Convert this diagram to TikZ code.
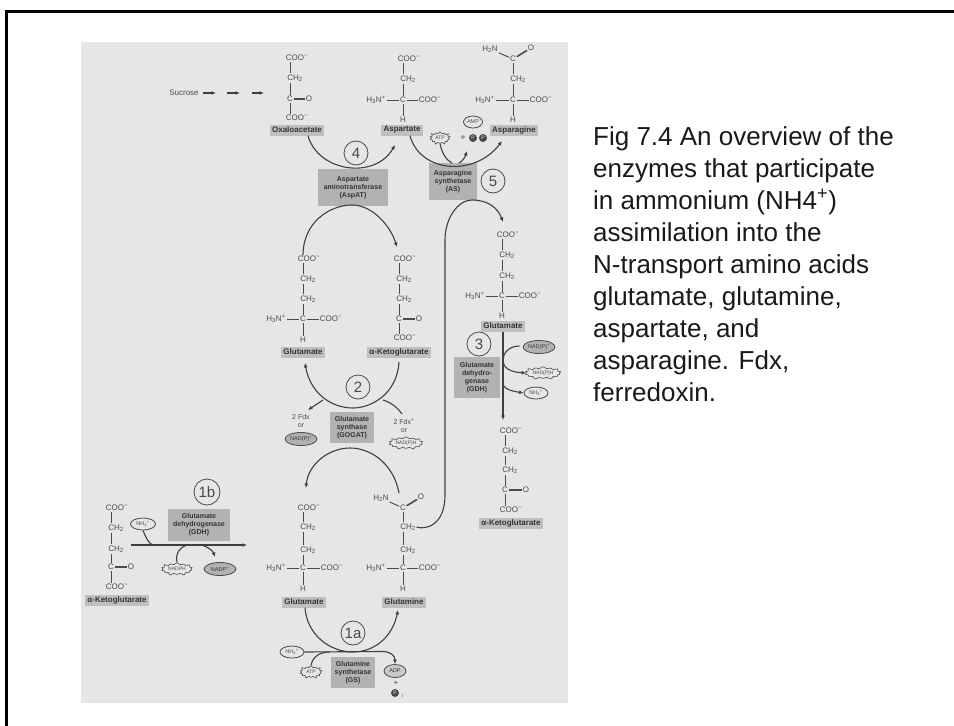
\documentclass[tikz,border=0pt]{standalone}
\usepackage{fontspec}
\setmainfont{Liberation Sans}
\usetikzlibrary{shapes.geometric,shapes.symbols,arrows.meta}
\definecolor{panel}{HTML}{E6E6E6}
\definecolor{boxg}{HTML}{B2B2B2}
\definecolor{ink}{HTML}{4A4A4A}
\definecolor{inkd}{HTML}{333333}
\newcommand{\sub}[1]{\textsubscript{#1}}
\newcommand{\ch}[1]{CH\textsubscript{2}}
\tikzset{
  x=1pt,y=-1pt,
  atom/.style={text=ink,font=\fontsize{8}{8}\selectfont,inner sep=0.6pt},
  bond/.style={draw=ink,line width=0.9pt,shorten >=0.2pt,shorten <=0.2pt},
  dbl/.style={draw=ink,line width=1.6pt},
  lab/.style={fill=boxg!75!panel,text=inkd,font=\bfseries\fontsize{8}{8}\selectfont,inner xsep=2.5pt,inner ysep=1pt,minimum height=11pt},
  enz/.style={fill=boxg,text=inkd,font=\bfseries\fontsize{7}{8}\selectfont,align=center,inner sep=0pt,anchor=center},
  num/.style={circle,draw=ink,line width=0.8pt,fill=panel,text=ink,font=\fontsize{15}{15}\selectfont,inner sep=0pt,minimum size=24pt},
  oval/.style={ellipse,draw=ink,line width=0.8pt,fill=panel,text=ink,font=\fontsize{5.5}{6}\selectfont,inner sep=0pt,minimum width=#1,minimum height=12pt},
  dark/.style={ellipse,draw=ink,line width=0.8pt,fill=boxg,text=inkd,font=\fontsize{5.5}{6}\selectfont,inner sep=0pt,minimum width=#1,minimum height=13pt},
  burst/.style={starburst,starburst points=14,starburst point height=2.5pt,draw=ink,line width=0.6pt,fill=panel,text=ink,font=\fontsize{5}{6}\selectfont,inner sep=0pt,minimum width=#1,minimum height=14pt},
  flow/.style={draw=ink!85!black,line width=1.1pt},
  arr/.style={flow,-{Latex[length=4.5pt,width=4pt]}},
  small/.style={text=ink,font=\fontsize{7}{8}\selectfont,inner sep=0pt}
}
\begin{document}
\begin{tikzpicture}
\useasboundingbox (0,0) rectangle (954,726);
\fill[white] (0,0) rectangle (954,726);
\fill[panel] (81,42) rectangle (568,703);
\draw[black,line width=2.6pt] (6.5,726) -- (6.5,11.5) -- (954,11.5);

% Oxaloacetate
\node[atom] (oa1) at (297,58) {COO\textsuperscript{−}};
\node[atom] (oa2) at (295,78) {\ch{}};
\node[atom] (oa3) at (290,99) {C};
\node[atom] (oa4) at (309,99) {O};
\node[atom] (oa5) at (297,118) {COO\textsuperscript{−}};
\draw[bond] (oa1.south -| oa3) -- (oa2.north -| oa3);
\draw[bond] (oa2.south -| oa3) -- (oa3);
\draw[bond] (oa3) -- (oa5.north -| oa3);
\draw[dbl] (oa3) -- (oa4);
\node[lab] (oal) at (297,130) {Oxaloacetate};
\node[atom] (suc) at (184,93) {Sucrose};
\coordinate (s0) at (203,93); \coordinate (s1) at (216,93); \coordinate (s2) at (227,93); \coordinate (s3) at (240,93);
\coordinate (s4) at (252,93); \coordinate (s5) at (264,93);
\draw[arr] (s0) -- (s1);
\draw[arr] (s2) -- (s3);
\draw[arr] (s4) -- (s5);

% Aspartate
\node[atom] (as1) at (409,59) {COO\textsuperscript{−}};
\node[atom] (as2) at (408,79) {\ch{}};
\node[atom] (as3) at (403,100) {C};
\node[atom] (as4) at (430,100) {COO\textsuperscript{−}};
\node[atom] (as5) at (376,100) {H\sub{3}N\textsuperscript{+}};
\node[atom] (as6) at (403,120) {H};
\draw[bond] (as1.south -| as3) -- (as2.north -| as3);
\draw[bond] (as2.south -| as3) -- (as3);
\draw[bond] (as3) -- (as6);
\draw[bond] (as5) -- (as3); \draw[bond] (as3) -- (as4);
\node[lab] (asl) at (402,130) {Aspartate};

% Asparagine
\node[atom] (an0) at (490,49) {H\sub{2}N};
\node[atom] (an7) at (531,48) {O};
\node[atom] (an1) at (513,59) {C};
\node[atom] (an2) at (518,79) {\ch{}};
\node[atom] (an3) at (513,100) {C};
\node[atom] (an4) at (541,100) {COO\textsuperscript{−}};
\node[atom] (an5) at (485,100) {H\sub{3}N\textsuperscript{+}};
\node[atom] (an6) at (513,120) {H};
\draw[bond] (an0) -- (an1); \draw[dbl] (an1) -- (an7);
\draw[bond] (an1) -- (an2.north -| an1);
\draw[bond] (an2.south -| an1) -- (an3);
\draw[bond] (an3) -- (an6);
\draw[bond] (an5) -- (an3); \draw[bond] (an3) -- (an4);
\node[lab] (anl) at (514,130) {Asparagine};

% Enzyme 4
\node[enz,minimum width=70pt,minimum height=37pt] (e4) at (353,187.5) {Aspartate\\aminotransferase\\(AspAT)};
\node[num] (n4) at (356,153) {4};
\coordinate (a4s) at (308,137); \coordinate (a4e) at (395,145);
\draw[arr] (oal.south -| a4s) .. controls (318,172) and (375,180) .. (a4e);

% Enzyme 5
\node[enz,minimum width=48pt,minimum height=37pt] (e5) at (453,181.5) {Asparagine\\synthetase\\(AS)};
\node[num] (n5) at (493,181) {5};
\node[burst=22pt] (atp5) at (440,138) {ATP};
\node[oval=19pt] (amp) at (473,122) {AMP};
\node[atom,font=\fontsize{9}{9}\selectfont] (pl5) at (463,138) {+};
\node[circle,fill=ink,text=panel,font=\fontsize{5}{5}\selectfont,inner sep=0pt,minimum size=8pt] (p1) at (473,138) {P};
\node[circle,fill=ink,text=panel,font=\fontsize{5}{5}\selectfont,inner sep=0pt,minimum size=8pt] (p2) at (483,138) {P};
\coordinate (a5s) at (410,137); \coordinate (a5e) at (502,141);
\draw[arr] (asl.south -| a5s) .. controls (420,173) and (475,177) .. (a5e);
\coordinate (j5a) at (452,163); \coordinate (j5b) at (459,163); \coordinate (t5b) at (467,151);
\draw[flow] (atp5.south) .. controls (442,153) and (446,160) .. (j5a);
\draw[arr] (j5b) .. controls (463,161) and (465,157) .. (t5b);

% Glutamate upper
\node[atom] (g1) at (309,259) {COO\textsuperscript{−}};
\node[atom] (g2) at (308,279) {\ch{}};
\node[atom] (g3) at (308,299) {\ch{}};
\node[atom] (g4) at (303,319) {C};
\node[atom] (g5) at (331,319) {COO\textsuperscript{−}};
\node[atom] (g6) at (276,319) {H\sub{3}N\textsuperscript{+}};
\node[atom] (g7) at (303,340) {H};
\draw[bond] (g1.south -| g4) -- (g2.north -| g4);
\draw[bond] (g2.south -| g4) -- (g3.north -| g4);
\draw[bond] (g3.south -| g4) -- (g4);
\draw[bond] (g4) -- (g7); \draw[bond] (g6) -- (g4); \draw[bond] (g4) -- (g5);
\node[lab] (gl) at (303,352) {Glutamate};

% a-Ketoglutarate upper
\node[atom] (k1) at (405,259) {COO\textsuperscript{−}};
\node[atom] (k2) at (404,279) {\ch{}};
\node[atom] (k3) at (404,299) {\ch{}};
\node[atom] (k4) at (399,319) {C};
\node[atom] (k5) at (419,319) {O};
\node[atom] (k6) at (405,338) {COO\textsuperscript{−}};
\draw[bond] (k1.south -| k4) -- (k2.north -| k4);
\draw[bond] (k2.south -| k4) -- (k3.north -| k4);
\draw[bond] (k3.south -| k4) -- (k4);
\draw[bond] (k4) -- (k6.north -| k4); \draw[dbl] (k4) -- (k5);
\node[lab] (kl) at (399,352) {α-Ketoglutarate};

\coordinate (lp4) at (397,247);
\draw[arr] (g1.north -| g4) .. controls (303,222) and (330,205) .. (352,205) .. controls (372,205) and (390,225) .. (lp4);

% Enzyme 2
\node[enz,minimum width=44pt,minimum height=31pt] (e2) at (352,427.5) {Glutamate\\synthase\\(GOGAT)};
\node[num] (n2) at (358,387) {2};
\coordinate (a2s) at (399,362); \coordinate (a2e) at (305,363);
\draw[arr] (a2s) .. controls (397,395) and (370,408) .. (353,408) .. controls (330,408) and (310,392) .. (a2e);
\coordinate (b2a) at (323,400); \coordinate (b2b) at (308,410); \coordinate (b2c) at (383,400); \coordinate (b2d) at (402,414);
\draw[arr] (b2a) -- (b2b);
\draw[flow] (b2c) .. controls (392,403) and (398,408) .. (b2d);
\node[small,align=center] (fd1) at (301,421) {2 Fdx\\or};
\node[dark=32pt] (nd1) at (301,439) {NAD(P)\textsuperscript{+}};
\node[small,align=center] (fd2) at (404,426) {2 Fdx\textsuperscript{+}\\or};
\node[burst=36pt] (nd2) at (406,443) {NAD(P)H};

% Glutamate lower
\node[atom] (h1) at (309,508) {COO\textsuperscript{−}};
\node[atom] (h2) at (308,527) {\ch{}};
\node[atom] (h3) at (308,550) {\ch{}};
\node[atom] (h4) at (303,568) {C};
\node[atom] (h5) at (332,568) {COO\textsuperscript{−}};
\node[atom] (h6) at (276,568) {H\sub{3}N\textsuperscript{+}};
\node[atom] (h7) at (303,589) {H};
\draw[bond] (h1.south -| h4) -- (h2.north -| h4);
\draw[bond] (h2.south -| h4) -- (h3.north -| h4);
\draw[bond] (h3.south -| h4) -- (h4);
\draw[bond] (h4) -- (h7); \draw[bond] (h6) -- (h4); \draw[bond] (h4) -- (h5);
\node[lab] (hl) at (304,602) {Glutamate};

% Glutamine
\node[atom] (q0) at (381,498) {H\sub{2}N};
\node[atom] (q8) at (421,497) {O};
\node[atom] (q1) at (403,508) {C};
\node[atom] (q2) at (408,527) {\ch{}};
\node[atom] (q3) at (408,550) {\ch{}};
\node[atom] (q4) at (403,568) {C};
\node[atom] (q5) at (430,568) {COO\textsuperscript{−}};
\node[atom] (q6) at (376,568) {H\sub{3}N\textsuperscript{+}};
\node[atom] (q7) at (403,589) {H};
\draw[bond] (q0) -- (q1); \draw[dbl] (q1) -- (q8);
\draw[bond] (q1) -- (q2.north -| q1);
\draw[bond] (q2.south -| q1) -- (q3.north -| q1);
\draw[bond] (q3.south -| q1) -- (q4);
\draw[bond] (q4) -- (q7); \draw[bond] (q6) -- (q4); \draw[bond] (q4) -- (q5);
\node[lab] (ql) at (404,602) {Glutamine};

\coordinate (lp2s) at (399,493); \coordinate (lp2e) at (306,488);
\draw[arr] (lp2s) .. controls (394,465) and (372,448) .. (350,448) .. controls (328,448) and (308,465) .. (lp2e);

% Long connector from glutamine to enzyme 5 and glutamate
\coordinate (tg3) at (503,222);
\draw[flow] (q2.east) .. controls (425,530) and (445,526) .. (445,495) -- (445,240);
\draw[arr] (445,240) .. controls (445,218) and (458,200) .. (472,200) .. controls (488,200) and (498,208) .. (tg3);

% Enzyme 1a
\node[enz,minimum width=44pt,minimum height=31pt] (e1a) at (353,672.5) {Glutamine\\synthetase\\(GS)};
\node[num] (n1a) at (353,633) {1a};
\coordinate (a1s) at (305,608); \coordinate (a1e) at (398,610);
\draw[arr] (hl.south -| a1s) .. controls (307,635) and (330,652) .. (353,652) .. controls (376,652) and (393,635) .. (a1e);
\node[oval=24pt] (nh1a) at (292,652) {NH\sub{4}\textsuperscript{+}};
\node[burst=24pt] (atp1a) at (311,672) {ATP};
\node[dark=22pt,fill=boxg!55!panel] (adp) at (395,671) {ADP};
\node[atom] (pl1a) at (396,683) {+};
\node[circle,fill=ink,text=panel,font=\fontsize{5}{5}\selectfont,inner sep=0pt,minimum size=8pt] (pi) at (395,693) {P};
\node[atom,font=\fontsize{5}{5}\selectfont] (pi2) at (403,696) {i};
\draw[arr] (nh1a.east) -- (382,651.5) .. controls (390,651.5) and (395,655) .. (adp.north);
\coordinate (j1a) at (330,652);
\draw[flow] (atp1a.north) .. controls (313,655) and (322,652) .. (j1a);

% 1b
\node[atom] (m1) at (117,508) {COO\textsuperscript{−}};
\node[atom] (m2) at (116,528) {\ch{}};
\node[atom] (m3) at (116,549) {\ch{}};
\node[atom] (m4) at (111,567) {C};
\node[atom] (m5) at (131,567) {O};
\node[atom] (m6) at (117,587) {COO\textsuperscript{−}};
\draw[bond] (m1.south -| m4) -- (m2.north -| m4);
\draw[bond] (m2.south -| m4) -- (m3.north -| m4);
\draw[bond] (m3.south -| m4) -- (m4);
\draw[bond] (m4) -- (m6.north -| m4); \draw[dbl] (m4) -- (m5);
\node[lab] (ml) at (117,600) {α-Ketoglutarate};
\node[enz,minimum width=62pt,minimum height=32pt] (e1b) at (199,525) {Glutamate\\dehydrogenase\\(GDH)};
\node[num,minimum size=26pt] (n1b) at (207,492) {1b};
\coordinate (l1s) at (131,545); \coordinate (l1e) at (247,545);
\draw[arr] (l1s) -- (l1e);
\node[oval=25pt] (nh1b) at (143,524) {NH\sub{4}\textsuperscript{+}};
\node[burst=33pt] (ndh1b) at (177,569) {NADPH};
\node[dark=32pt] (nd1b) at (220,569) {NADP\textsuperscript{+}};
\coordinate (j1) at (153,545); \coordinate (j2) at (187,545); \coordinate (j3) at (202,545); \coordinate (t1) at (215,557);
\draw[flow] (nh1b.south) .. controls (146,538) and (149,544) .. (j1);
\draw[flow] (ndh1b.north) .. controls (175,552) and (181,547) .. (j2);
\draw[arr] (j3) .. controls (208,547) and (213,551) .. (t1);

% Glutamate right
\node[atom] (r1) at (508,235) {COO\textsuperscript{−}};
\node[atom] (r2) at (507,255) {\ch{}};
\node[atom] (r3) at (507,276) {\ch{}};
\node[atom] (r4) at (502,296) {C};
\node[atom] (r5) at (530,296) {COO\textsuperscript{−}};
\node[atom] (r6) at (475,296) {H\sub{3}N\textsuperscript{+}};
\node[atom] (r7) at (502,316) {H};
\draw[bond] (r1.south -| r4) -- (r2.north -| r4);
\draw[bond] (r2.south -| r4) -- (r3.north -| r4);
\draw[bond] (r3.south -| r4) -- (r4);
\draw[bond] (r4) -- (r7); \draw[bond] (r6) -- (r4); \draw[bond] (r4) -- (r5);
\node[lab] (rl) at (503,326) {Glutamate};

% a-Ketoglutarate right
\node[atom] (t1a) at (511,431) {COO\textsuperscript{−}};
\node[atom] (t2) at (510,451) {\ch{}};
\node[atom] (t3) at (510,470) {\ch{}};
\node[atom] (t4) at (505,490) {C};
\node[atom] (t5) at (526,490) {O};
\node[atom] (t6) at (511,510) {COO\textsuperscript{−}};
\draw[bond] (t1a.south -| t4) -- (t2.north -| t4);
\draw[bond] (t2.south -| t4) -- (t3.north -| t4);
\draw[bond] (t3.south -| t4) -- (t4);
\draw[bond] (t4) -- (t6.north -| t4); \draw[dbl] (t4) -- (t5);
\node[lab] (tl) at (511,523) {α-Ketoglutarate};

% Enzyme 3
\node[enz,minimum width=46pt,minimum height=41pt] (e3) at (477,377.5) {Glutamate\\dehydro-\\genase\\(GDH)};
\node[num] (n3) at (479,344) {3};
\coordinate (d3) at (503,420);
\draw[arr] (rl.south -| d3) -- (d3);
\node[dark=32pt] (nd3) at (539,347) {NAD(P)\textsuperscript{+}};
\node[burst=38pt] (ndh3) at (543,373) {NAD(P)H};
\node[oval=24pt] (nh3) at (536,393) {NH\sub{4}\textsuperscript{+}};
\coordinate (j3a) at (503,385);
\draw[arr] (nd3.west) ++(-3,-1) .. controls (508,346) and (503,354) .. (503,360) .. controls (503,368) and (510,372) .. (ndh3.west);
\draw[arr] (j3a) .. controls (506,390) and (512,391) .. (nh3.west);

% Caption
\node[anchor=base west,align=left,font=\fontsize{26}{32}\selectfont,text=black!90,inner sep=0pt] (cap) at (593,401) {Fig 7.4 An overview of the\\enzymes that participate\\in ammonium (NH4\textsuperscript{+})\\assimilation into the\\N-transport amino acids\\glutamate, glutamine,\\aspartate, and\\asparagine. Fdx,\\ferredoxin.};
\end{tikzpicture}
\end{document}
